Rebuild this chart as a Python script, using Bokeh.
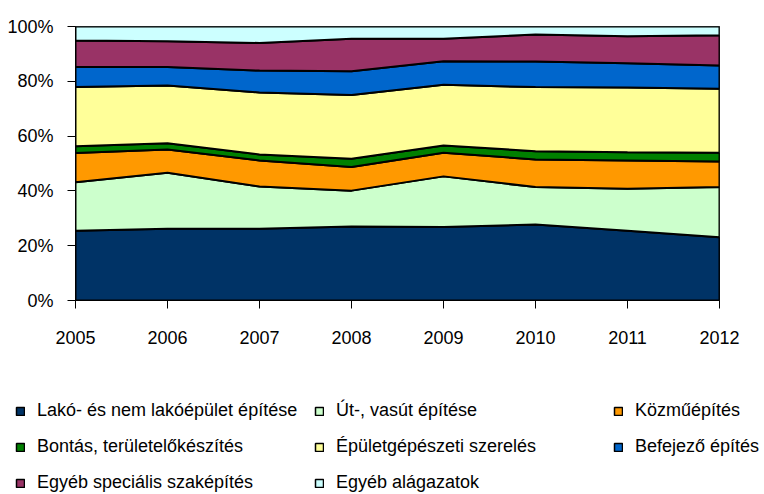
from bokeh.plotting import figure
from bokeh.models import Range1d, FixedTicker, PrintfTickFormatter, Legend, LegendItem
from bokeh.layouts import column
from bokeh.embed import file_html
from bokeh.resources import INLINE

years = [2005, 2006, 2007, 2008, 2009, 2010, 2011, 2012]

categories = [
    "Lakó- és nem lakóépület építése",
    "Út-, vasút építése",
    "Közműépítés",
    "Bontás, területelőkészítés",
    "Épületgépészeti szerelés",
    "Befejező építés",
    "Egyéb speciális szaképítés",
    "Egyéb alágazatok",
]

lako = [25.5, 26.2, 26.2, 27.0, 26.8, 27.7, 25.5, 23.1]
ut = [17.7, 20.4, 15.4, 13.1, 18.5, 13.7, 15.3, 18.3]
kozmu = [10.6, 8.5, 9.5, 8.6, 8.6, 10.1, 10.3, 9.3]
bontas = [2.5, 2.3, 2.2, 3.0, 2.7, 3.0, 3.0, 3.2]
epuletgep = [21.6, 21.1, 22.6, 23.3, 22.1, 23.4, 23.6, 23.4]
befejezo = [7.3, 6.7, 8.0, 8.7, 8.6, 9.3, 8.9, 8.5]
egyeb_spec = [9.7, 9.4, 10.1, 11.8, 8.2, 9.9, 9.8, 11.0]
egyeb_alag = [5.1, 5.4, 6.0, 4.5, 4.5, 2.9, 3.6, 3.2]

colors = ["#003366", "#CCFFCC", "#FF9900", "#008000", "#FFFF99", "#0066CC", "#993366", "#CCFFFF"]

y_ticks = [0, 20, 40, 60, 80, 100]

series = [lako, ut, kozmu, bontas, epuletgep, befejezo, egyeb_spec, egyeb_alag]

FONT = "Liberation Sans"

p = figure(width=764, height=350, output_backend="svg", toolbar_location=None,
           x_range=Range1d(2005, 2012), y_range=Range1d(0, 100),
           min_border_left=75, min_border_right=45, min_border_top=26, min_border_bottom=50)
p.frame_align = False
p.grid.visible = False
p.outline_line_color = "black"
p.outline_line_width = 1
p.background_fill_color = "white"
p.border_fill_color = "white"

totals = [sum(s[i] for s in series) for i in range(len(years))]
lower = [0.0] * len(years)
for s, c in zip(series, colors):
    upper = [lower[i] + s[i] / totals[i] * 100 for i in range(len(years))]
    xs = years + years[::-1]
    ys = upper + lower[::-1]
    p.patch(xs, ys, fill_color=c, line_color="black", line_width=2)
    lower = upper

for ax in (p.xaxis[0], p.yaxis[0]):
    ax.axis_line_color = "black"
    ax.axis_line_width = 1
    ax.major_tick_line_color = "black"
    ax.major_tick_in = 0
    ax.major_tick_out = 8
    ax.minor_tick_line_color = None
    ax.major_label_text_font = FONT
    ax.major_label_text_font_size = "18px"
    ax.major_label_text_color = "black"

p.xaxis.ticker = FixedTicker(ticks=years)
p.xaxis.major_label_standoff = 22
p.yaxis.ticker = FixedTicker(ticks=y_ticks)
p.yaxis.formatter = PrintfTickFormatter(format="%d%%")
p.yaxis.major_label_standoff = 14

# legend panel (its own small figure, swatches only)
q = figure(width=764, height=144, output_backend="svg", toolbar_location=None,
           x_range=Range1d(0, 1), y_range=Range1d(0, 1),
           min_border_left=0, min_border_right=0, min_border_top=0, min_border_bottom=0)
q.frame_align = False
q.axis.visible = False
q.grid.visible = False
q.outline_line_color = None
q.background_fill_color = "white"

items = []
for name, c in zip(categories, colors):
    r = q.patch([5, 6, 6], [5, 5, 6], fill_color=c, line_color="black", line_width=1.5)
    items.append(LegendItem(label=name, renderers=[r]))

leg = Legend(items=items, orientation="horizontal", ncols=3,
             location=(15, 1), padding=0, margin=0, spacing=15,
             glyph_width=10, glyph_height=10, label_standoff=12,
             label_width=262, label_height=20,
             label_text_font=FONT, label_text_font_size="18px",
             label_text_color="black", border_line_color=None,
             background_fill_alpha=0)
q.add_layout(leg, "center")

layout = column(p, q, spacing=0)

open("out.html", "w").write(file_html(layout, INLINE))
